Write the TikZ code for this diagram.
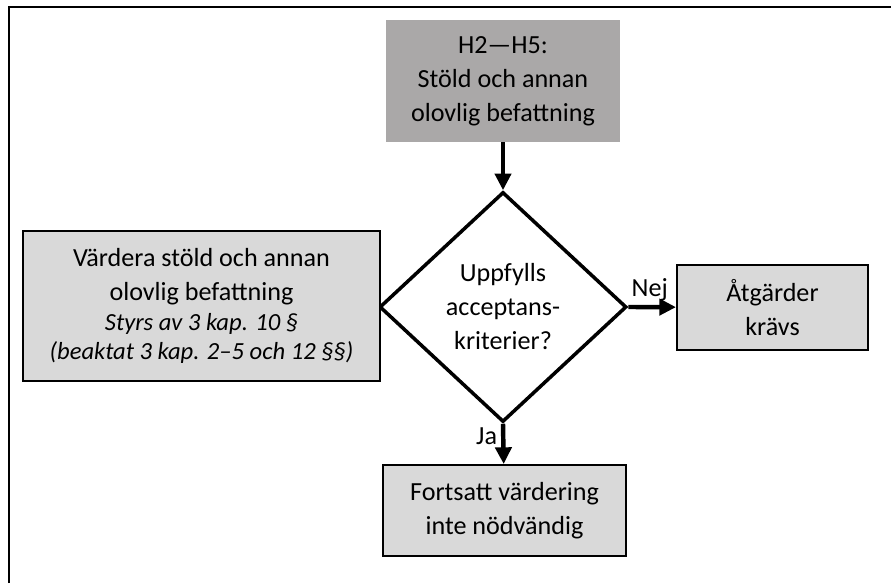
\documentclass[tikz,border=0pt]{standalone}
\usepackage{fontspec}
\setmainfont{Carlito}
\usetikzlibrary{arrows.meta,shapes.geometric}
\definecolor{headgray}{RGB}{170,168,168}
\definecolor{boxgray}{RGB}{217,217,217}
\newcommand\lawnote[1]{{\fontsize{21}{25}\selectfont\itshape #1}}
\tikzset{
  box/.style={draw, line width=1.7pt, fill=boxgray, align=center, inner sep=0pt},
  decision/.style={diamond, draw, line width=3pt, align=center, inner sep=0pt,
    minimum width=7.41cm, minimum height=6.9cm},
  flow/.style={line width=3.8pt, -{Triangle[length=0.5cm,width=0.48cm]}}
}
\begin{document}
\begin{tikzpicture}[font=\fontsize{22.3}{29}\selectfont]
\useasboundingbox (0,0) rectangle (26.73,17.49);
\draw[line width=2.1pt] (0.27,0) -- (0.27,17.28) -- (26.73,17.28);
\node[fill=headgray, align=center, minimum width=7.02cm, minimum height=3.66cm] (top) at (15.09,15.06)
  {H2\textemdash H5:\\Stöld och annan\\olovlig befattning};
\node[decision] (q) at (15.09,8.28) {Uppfylls\\acceptans-\\kriterier?};
\node[box, minimum width=10.71cm, minimum height=4.5cm] (assess) at (6.045,8.31)
  {Värdera stöld och annan\\olovlig befattning\\[-4pt]
   \lawnote{Styrs av 3 kap. 10 §}\\[-4pt]
   \lawnote{(beaktat 3 kap. 2–5 och 12 §§)}};
\node[box, minimum width=5.73cm, minimum height=2.55cm] (act) at (23.175,8.265) {Åtgärder\\krävs};
\node[box, minimum width=7.29cm, minimum height=2.73cm] (done) at (15.135,2.175)
  {Fortsatt värdering\\inte nödvändig};
\draw[flow] (top) -- (q);
\draw[flow] (q.east) -- node[above, pos=0.45] {Nej} (act);
\draw[flow] (q.south) -- node[left, pos=0.3] {Ja} (done);
\end{tikzpicture}
\end{document}
